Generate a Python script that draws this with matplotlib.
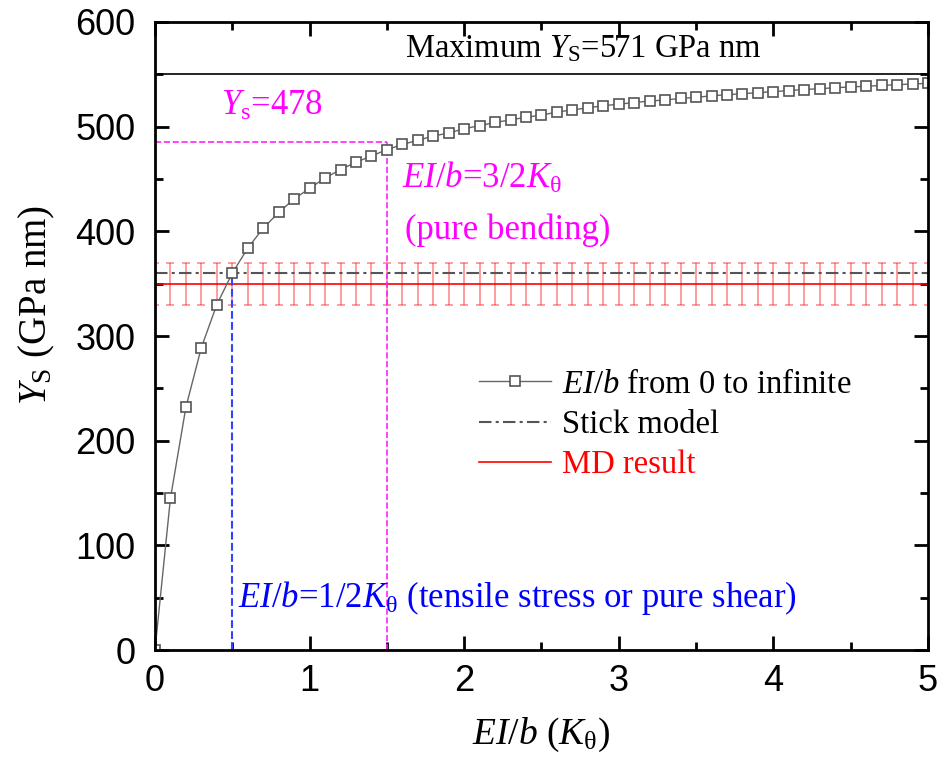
import numpy as np
import matplotlib
matplotlib.use('Agg')
import matplotlib.pyplot as plt

plt.rcParams['mathtext.fontset'] = 'custom'
plt.rcParams['mathtext.rm'] = 'Liberation Serif'
plt.rcParams['mathtext.it'] = 'Liberation Serif:italic'
plt.rcParams['font.family'] = 'Liberation Serif'

# EI/b from 0 to infinite (sampled every 0.1 K_theta)
ei_b = np.round(np.arange(0, 5.01, 0.1), 1)
ys = [0, 145, 232, 289, 330, 360, 384, 403, 418, 431, 441,
      451, 459, 466, 472, 478, 483, 487, 491, 494, 498,
      501, 504, 506.5, 509, 511, 514, 516, 518, 520, 521.5,
      523, 524.5, 525.5, 527, 528, 529.5, 530.5, 531.5, 532.5, 533.5,
      534.5, 535.5, 536.3, 537.2, 538, 538.6, 539.4, 540.1, 540.8, 541.4]

max_ys = 550
stick_model = 360
md_result = 350
md_err = 20
ys_bending = 485

fig = plt.figure(figsize=(9.45, 7.69), dpi=100)
ax = fig.add_axes([0.164, 0.1547, 0.818, 0.8167])

ax.axhline(max_ys, color='black', lw=1.2)

# MD result with error bars
md_x = ei_b
ax.errorbar(md_x, [md_result] * len(md_x), yerr=md_err, fmt='none',
            ecolor=(1, 0, 0, 0.45), elinewidth=1.2, capsize=3, capthick=1.2)
ax.axhline(md_result, color='red', lw=1.2, label='MD result')
ax.axhline(stick_model, color='#555555', lw=1.5, ls=(0, (6, 2, 1.5, 2)),
           label='Stick model')

# guide lines
ax.plot([0.5, 0.5], [0, stick_model], color='#3344ff', ls='--', lw=1.5)
ax.plot([1.5, 1.5], [0, ys_bending], color='#ff22ff', ls='--', lw=1.2)
ax.plot([0, 1.5], [ys_bending, ys_bending], color='#ff22ff', ls='--', lw=1.2)

ax.plot(ei_b, ys, color='#666666', lw=1.0, marker='s', ms=7.5,
        mfc='white', mec='#555555', mew=1.2, label=r'$EI/b$ from 0 to infinite')

ax.set_xlim(0, 5)
ax.set_ylim(0, 600)
ax.set_xticks([0, 1, 2, 3, 4, 5])
ax.set_yticks([0, 100, 200, 300, 400, 500, 600])
ax.set_xticks(np.arange(0.5, 5, 1), minor=True)
ax.set_yticks(np.arange(50, 600, 100), minor=True)
ax.tick_params(which='both', direction='in', top=True, right=True, width=2)
ax.tick_params(which='major', length=10, pad=14)
ax.tick_params(which='minor', length=6)
for lab in ax.get_xticklabels() + ax.get_yticklabels():
    lab.set_family('Liberation Sans')
    lab.set_fontsize(26)
ax.tick_params(axis='x', pad=10)
for s in ax.spines.values():
    s.set_linewidth(2)

ax.set_xlabel(r'$EI/b$ ($K_\mathrm{\theta}$)', fontsize=27, labelpad=12)
ax.set_ylabel(r'$Y_\mathrm{S}$ (GPa nm)', fontsize=28)
ax.yaxis.set_label_coords(-0.127, 0.55)

ax.text(2.77, 574, r'Maximum $Y_\mathrm{S}$=571 GPa nm', fontsize=23.5,
        ha='center', va='center')
ax.text(0.43, 519, r'$Y_\mathrm{s}$=478', fontsize=25, color='#ff00ff',
        va='center')
ax.text(1.6, 451, r'$EI/b$=3/2$K_\mathrm{\theta}$', fontsize=25,
        color='#ff00ff', va='center')
ax.text(1.62, 401, '(pure bending)', fontsize=25, color='#ff00ff', va='center')
ax.text(0.54, 50, r'$EI/b$=1/2$K_\mathrm{\theta}$ (tensile stress or pure shear)',
        fontsize=25, color='#0000ff', va='center')

h, l = ax.get_legend_handles_labels()
order = [l.index(r'$EI/b$ from 0 to infinite'), l.index('Stick model'),
         l.index('MD result')]
leg = ax.legend([h[i] for i in order], [l[i] for i in order],
                loc='upper left', bbox_to_anchor=(0.381, 0.494), frameon=False,
                fontsize=23.5, handlelength=2.2, labelspacing=0.3,
                handletextpad=0.35)
leg.get_texts()[2].set_color('red')

fig.savefig('out.png', dpi=100)
